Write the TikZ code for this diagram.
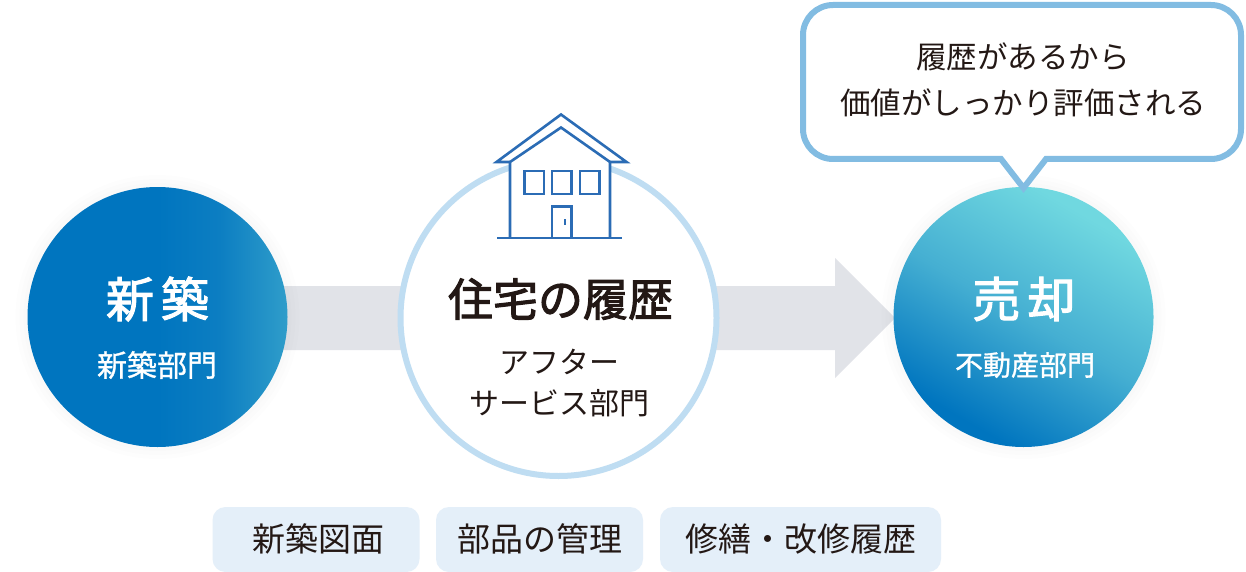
\documentclass[tikz,border=0pt]{standalone}
\usepackage{fontspec}
\setmainfont{Noto Sans CJK JP}
\newfontfamily\jpmedium[FakeBold=2.2]{Noto Sans CJK JP}
\newfontfamily\jpsoft[FakeBold=1]{Noto Sans CJK JP}
\usetikzlibrary{calc}
\definecolor{ink}{HTML}{231815}
\definecolor{deepblue}{HTML}{0075BF}
\definecolor{edgeblue}{HTML}{2F9DCA}
\definecolor{midblue}{HTML}{0C7EC2}
\definecolor{midteal}{HTML}{45AFD2}
\definecolor{lightteal}{HTML}{70D8E0}
\definecolor{band}{HTML}{E1E3E8}
\definecolor{ringblue}{HTML}{BFDDF2}
\definecolor{bubbleblue}{HTML}{82BCE2}
\definecolor{houseblue}{HTML}{2B6CB5}
\definecolor{chipblue}{HTML}{E4EFF9}
\pgfdeclareverticalshading{leftgrad}{100bp}{color(0bp)=(deepblue); color(25bp)=(deepblue); color(50bp)=(deepblue); color(62bp)=(midblue); color(75bp)=(edgeblue); color(100bp)=(edgeblue)}
\pgfdeclareverticalshading{rightgrad}{100bp}{color(0bp)=(deepblue); color(27bp)=(deepblue); color(50bp)=(midteal); color(73bp)=(lightteal); color(100bp)=(lightteal)}
\tikzset{
  halo/.style={circle,fill=black,fill opacity=0.008,inner sep=0pt},
  titletext/.style={text=#1,font=\fontsize{48}{54}\selectfont\jpmedium,inner sep=0pt},
  subtext/.style={text=#1,font=\fontsize{30}{41}\selectfont,align=center,inner sep=0pt},
  housepart/.style={draw=houseblue,line width=2.6pt,line join=miter},
  chip/.style={rounded corners=13pt,fill=chipblue,minimum height=65pt,inner sep=0pt,text=ink,font=\fontsize{33}{38}\selectfont,text height=28pt,text depth=4pt}
}
\begin{document}
\begin{tikzpicture}[x=1pt,y=-1pt]
\useasboundingbox (0,0) rectangle (1246,572);
\fill[white] (0,0) rectangle (1246,572);

% anchors of the three stages
\coordinate (leftc) at (157.5,317);
\coordinate (midc) at (558.5,318);
\coordinate (rightc) at (1023.5,317);

% arrow behind the circles
\fill[band] ($(leftc)+(0,-31)$) -- (835,286) -- (835,258) -- (895,318) -- (835,378) -- (835,350) -- ($(leftc)+(0,33)$) -- cycle;

% soft halos
\foreach \r in {268,276,284}{
  \node[halo,minimum size=\r pt] at (leftc) {};
  \node[halo,minimum size=\r pt] at (rightc) {};
}

% circles
\path[shade,shading=leftgrad,shading angle=-90] (leftc) circle[radius=130];
\path[shade,shading=rightgrad,shading angle=-30] (rightc) circle[radius=130];
\draw[ringblue,fill=white,line width=6pt] (midc) circle[radius=158];

% house
\fill[white] (495,162) -- (561,113) -- (628,162) -- (610,162) -- (610,238) -- (510,238) -- (510,162) -- cycle;
\draw[housepart] (510,162) -- (496.5,162) -- (561,114.5) -- (626.5,162) -- (610,162);
\draw[housepart] (510,238) -- (510,162) -- (561,127.5) -- (610,162) -- (610,238);
\draw[housepart] (497,238) -- (622,238);
\draw[housepart] (524.5,171) rectangle (544,194);
\draw[housepart] (552,171) rectangle (571.5,194);
\draw[housepart] (580,171) rectangle (599.5,194);
\draw[housepart] (552,238) -- (552,206.5) -- (571.5,206.5) -- (571.5,238);
\draw[houseblue,line width=2.4pt] (564.7,219) -- (564.7,225);

% speech bubble
\draw[bubbleblue,fill=white,line width=6pt,line join=miter,miter limit=10]
  (1001,159) -- (900,159) [rounded corners=30pt] -- (803,159) -- (803,5) -- (1241,5) -- (1241,159) -- (1120,159) [sharp corners] -- (1046,159) -- (1023.5,188) -- cycle;
\node[text=ink,font=\fontsize{30.5}{46}\selectfont,align=center,inner sep=0pt] (bubbletext) at (1023,80) {履歴があるから\\価値がしっかり評価される};

% labels
\node[titletext=white] (newtitle) at (157.5,299) {新\hspace{7pt}築};
\node[subtext=white,font=\fontsize{30}{41}\selectfont\jpsoft] (newsub) at (157,365) {新築部門};
\node[titletext=ink,font=\fontsize{45}{50}\selectfont\jpmedium] (midtitle) at (560.5,299) {住宅の履歴};
\node[subtext=ink] (midsub) at (559,383) {アフター\\サービス部門};
\node[titletext=white] (righttitle) at (1024,299) {売\hspace{7pt}却};
\node[subtext=white,font=\fontsize{28}{41}\selectfont\jpsoft] (rightsub) at (1025,365) {不動産部門};

% chips
\node[chip,minimum width=207pt] (chipa) at (316,539.5) {\hspace{5pt}新築図面};
\node[chip,minimum width=207pt] (chipb) at (539.5,539.5) {部品の管理};
\node[chip,minimum width=281pt] (chipc) at (800.5,539.5) {修繕・改修履歴\hspace{2pt}};
\end{tikzpicture}
\end{document}
